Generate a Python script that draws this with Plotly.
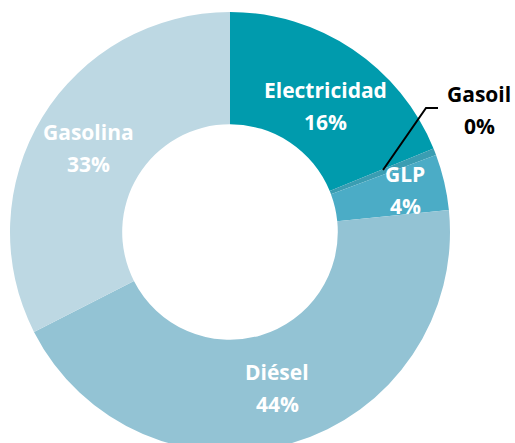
import plotly.graph_objects as go

# Data (slice shares estimated from the drawn angles)
categories = ["Electricidad", "Gasoil", "GLP", "Diésel", "Gasolina"]
shares = [18.8, 0.5, 4.1, 44.1, 32.5]
pct_labels = ["16%", "0%", "4%", "44%", "33%"]

colors = ["#009BAD", "#3A9DB2", "#4BACC6", "#93C3D4", "#BDD8E3"]
text_colors = ["white", "black", "white", "white", "white"]
# label anchor (pixel centre of the name line) for each category
label_px = [(325, 90), (479, 94), (405, 174), (277, 372), (88, 132)]
LINE_GAP = 32

W, H, TOP = 515, 452, 12


def px(x):
    return x / W


def py(y):
    return (H - y) / (H - TOP)


fig = go.Figure(
    go.Pie(
        labels=categories,
        values=shares,
        textinfo="none",
        marker=dict(colors=colors, line=dict(width=0)),
        hole=0.49,
        sort=False,
        direction="clockwise",
        rotation=0,
        showlegend=False,
        hoverinfo="label+text",
        text=pct_labels,
        domain=dict(x=[0, 460 / W], y=[0, 1]),
    )
)

annotations = []
for name, pct, col, (x, y) in zip(categories, pct_labels, text_colors, label_px):
    for txt, yy in ((name, y), (pct, y + LINE_GAP)):
        annotations.append(
            dict(
                text=txt,
                x=px(x),
                y=py(yy),
                xref="paper",
                yref="paper",
                xanchor="center",
                yanchor="middle",
                showarrow=False,
                font=dict(family="Open Sans", size=21, color=col, weight="bold"),
            )
        )

# leader line for the tiny Gasoil slice
leader = [(383, 170), (426, 108), (438, 108)]
path = "M " + " L ".join(f"{px(x):.5f},{py(y):.5f}" for x, y in leader)

fig.update_layout(
    width=W,
    height=H,
    margin=dict(l=0, r=0, t=TOP, b=0),
    paper_bgcolor="white",
    plot_bgcolor="white",
    showlegend=False,
    annotations=annotations,
    shapes=[
        dict(
            type="path",
            path=path,
            xref="paper",
            yref="paper",
            line=dict(color="black", width=2),
        )
    ],
)

fig.write_html(
    "out.html",
    config={"displayModeBar": False},
    post_script="document.body.style.margin='0';document.body.style.overflow='hidden';",
)
